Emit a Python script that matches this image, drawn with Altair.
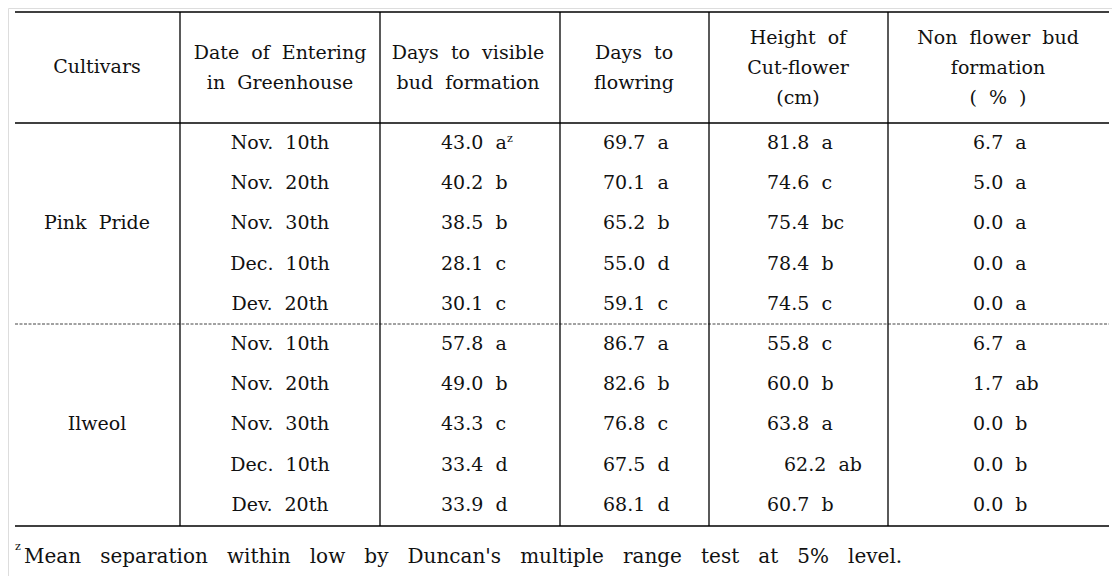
import altair as alt
import pandas as pd

# ---------------- data ----------------
cultivars = ["Pink Pride", "Ilweol"]
dates = ["Nov. 10th", "Nov. 20th", "Nov. 30th", "Dec. 10th", "Dev. 20th"]
bud_days = [43.0, 40.2, 38.5, 28.1, 30.1, 57.8, 49.0, 43.3, 33.4, 33.9]
bud_letters = ["a", "b", "b", "c", "c", "a", "b", "c", "d", "d"]
flower_days = [69.7, 70.1, 65.2, 55.0, 59.1, 86.7, 82.6, 76.8, 67.5, 68.1]
flower_letters = ["a", "a", "b", "d", "c", "a", "b", "c", "d", "d"]
cut_height = [81.8, 74.6, 75.4, 78.4, 74.5, 55.8, 60.0, 63.8, 62.2, 60.7]
height_letters = ["a", "c", "bc", "b", "c", "c", "b", "a", "ab", "b"]
non_bud = [6.7, 5.0, 0.0, 0.0, 0.0, 6.7, 1.7, 0.0, 0.0, 0.0]
non_bud_letters = ["a", "a", "a", "a", "a", "a", "ab", "b", "b", "b"]
headers = [
    ["Cultivars"],
    ["Date of Entering", "in Greenhouse"],
    ["Days to visible", "bud formation"],
    ["Days to", "flowring"],
    ["Height of", "Cut-flower", "(cm)"],
    ["Non flower bud", "formation", "( % )"],
]
footnote = "Mean separation within low by Duncan's multiple range test at 5% level."

# ---------------- layout (screen px, page margin 8) ----------------
M = 8
W, H = 1120 - 2 * M, 584 - 2 * M
NB = "\u00a0"
FONT = "DejaVu Serif"
FS = 19


def sp(s, n=1):
    return s.replace(" ", NB * n + " ")


col_edges = [15, 180, 380, 560, 709, 888, 1109]
head_centers = [97, 280, 468, 634, 798, 998]
value_left = [441, 603, 767, 973]
y_top, y_head, y_sep, y_bot = 12, 123, 324, 526
row_y = [143 + 40.2 * i for i in range(10)]
head_y = {1: [67], 2: [53, 83], 3: [38, 68, 98]}

center_rows = []
for c, lines in enumerate(headers):
    for t, yy in zip(lines, head_y[len(lines)]):
        center_rows.append({"x": head_centers[c] - M, "y": yy - M, "t": sp(t)})
for g, name in enumerate(cultivars):
    center_rows.append({"x": head_centers[0] - M, "y": row_y[g * 5 + 2] - M, "t": sp(name)})
for i in range(10):
    center_rows.append({"x": head_centers[1] - M, "y": row_y[i] - M, "t": sp(dates[i % 5])})

left_rows = []
series = [(bud_days, bud_letters), (flower_days, flower_letters),
          (cut_height, height_letters), (non_bud, non_bud_letters)]
for c, (vals, lets) in enumerate(series):
    for i in range(10):
        txt = f"{vals[i]:.1f}" + NB + NB + lets[i]
        xl = value_left[c]
        if c == 2 and lets[i] == "ab":
            xl += 17
        left_rows.append({"x": xl - M, "y": row_y[i] - M, "t": txt})

foot_rows = [{"x": 24 - M, "y": 557 - M, "t": sp(footnote, 2)}]

sup_rows = [
    {"x": 507 - M, "y": 139 - M, "t": "z"},
    {"x": 15 - M, "y": 547 - M, "t": "z"},
]

hlines = pd.DataFrame({
    "x": [col_edges[0] - M] * 3,
    "x2": [col_edges[-1] - M] * 3,
    "y": [y_top - M, y_head - M, y_bot - M],
})
dlines = pd.DataFrame({"x": [col_edges[0] - M], "x2": [col_edges[-1] - M], "y": [y_sep - M]})
vlines = pd.DataFrame({
    "x": [e - M for e in col_edges[1:-1]],
    "y": [y_top - M] * 5,
    "y2": [y_bot - M] * 5,
})

xs = alt.Scale(domain=[0, W], range=[0, W])
ys = alt.Scale(domain=[0, H], range=[0, H])
X = alt.X("x:Q", scale=xs, axis=None)
Y = alt.Y("y:Q", scale=ys, axis=None)

h_layer = alt.Chart(hlines).mark_rule(color="black", strokeWidth=1.6).encode(X, Y, x2="x2:Q")
d_layer = alt.Chart(dlines).mark_rule(color="#444444", strokeWidth=1, strokeDash=[3, 1.5]).encode(X, Y, x2="x2:Q")
v_layer = alt.Chart(vlines).mark_rule(color="black", strokeWidth=1.3).encode(X, Y, y2="y2:Q")

c_text = alt.Chart(pd.DataFrame(center_rows)).mark_text(
    font=FONT, fontSize=FS, align="center", baseline="middle", color="#111111"
).encode(X, Y, text="t:N")
l_text = alt.Chart(pd.DataFrame(left_rows)).mark_text(
    font=FONT, fontSize=FS, align="left", baseline="middle", color="#111111"
).encode(X, Y, text="t:N")
f_text = alt.Chart(pd.DataFrame(foot_rows)).mark_text(
    font=FONT, fontSize=20, align="left", baseline="middle", color="#111111"
).encode(X, Y, text="t:N")
s_text = alt.Chart(pd.DataFrame(sup_rows)).mark_text(
    font=FONT, fontSize=11, align="left", baseline="middle", color="#111111"
).encode(X, Y, text="t:N")

chart = alt.layer(h_layer, d_layer, v_layer, c_text, l_text, f_text, s_text).properties(
    width=W, height=H, padding=0, autosize=alt.AutoSizeParams(type="none")
).configure_view(stroke=None).configure(background="white")

chart.save("out.html", embed_options={"renderer": "svg", "actions": False})
